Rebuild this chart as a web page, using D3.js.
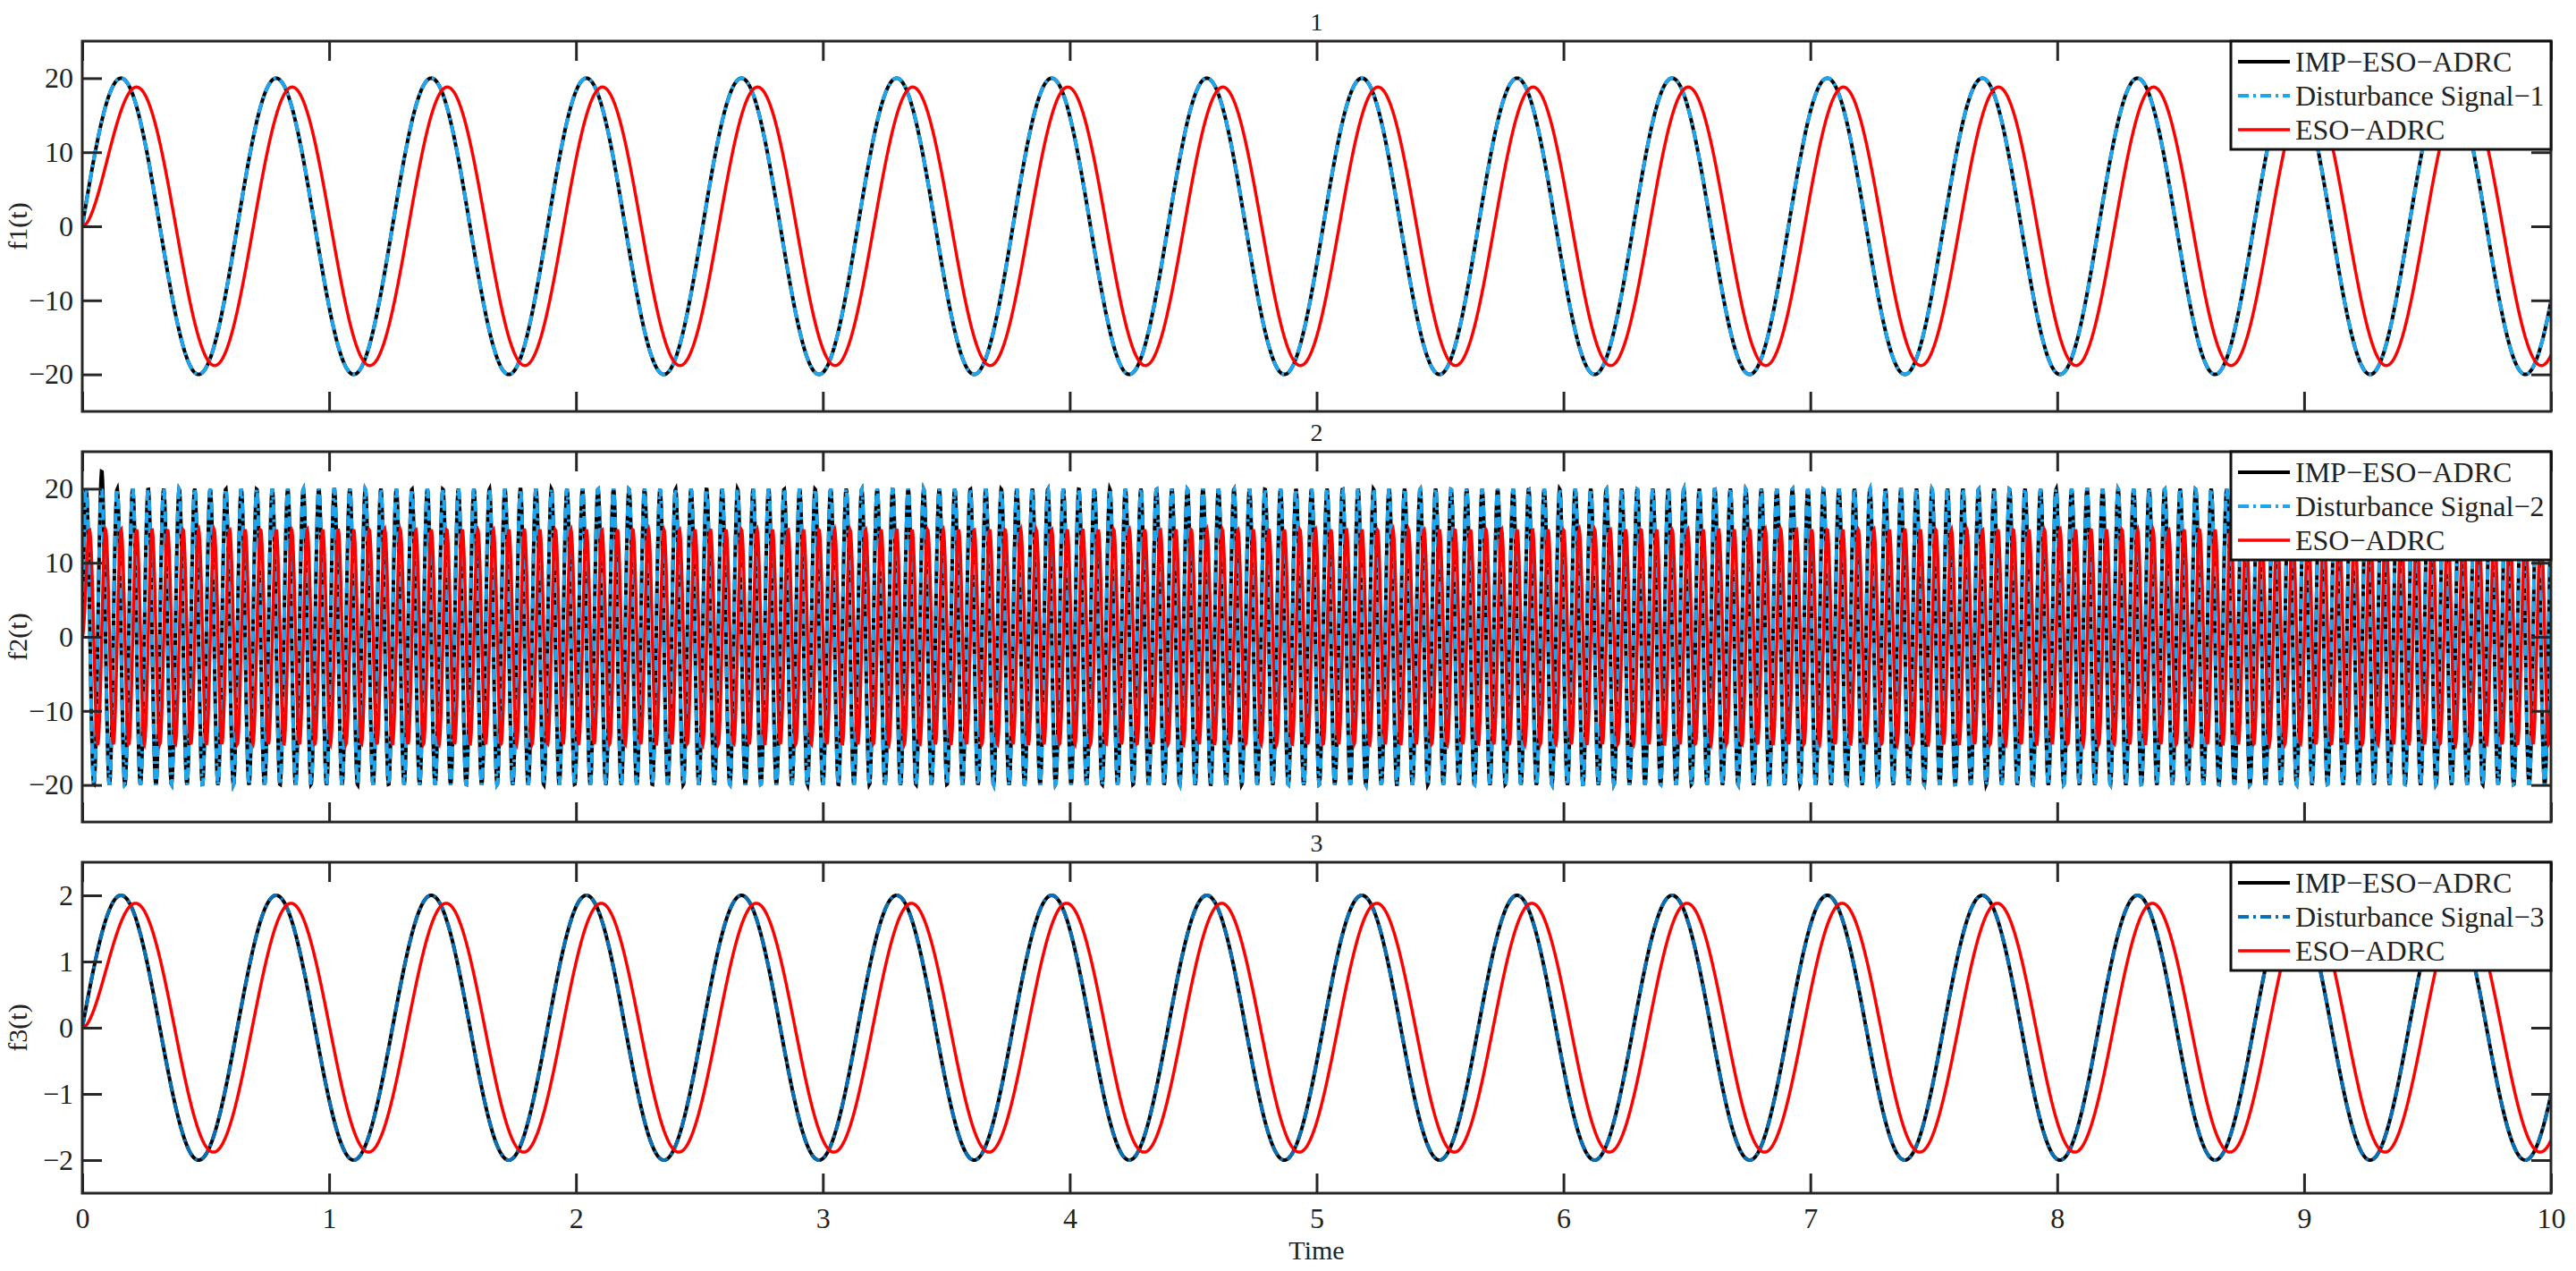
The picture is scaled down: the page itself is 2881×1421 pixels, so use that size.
<!DOCTYPE html>
<html><head><meta charset="utf-8">
<script src="https://cdn.jsdelivr.net/npm/d3@7"></script>
<style>body{margin:0;background:#fff}svg{display:block}text{font-family:"Liberation Serif","Times New Roman",serif;fill:#222}</style>
</head><body><svg id="c" width="2881" height="1421"></svg>
<script>
// ---- data ----
const panelTitles = ["1", "2", "3"];
const yLabels = ["f1(t)", "f2(t)", "f3(t)"];
const legendNames = [
  ["IMP\u2212ESO\u2212ADRC", "Disturbance Signal\u22121", "ESO\u2212ADRC"],
  ["IMP\u2212ESO\u2212ADRC", "Disturbance Signal\u22122", "ESO\u2212ADRC"],
  ["IMP\u2212ESO\u2212ADRC", "Disturbance Signal\u22123", "ESO\u2212ADRC"]
];
const xTicks = [0,1,2,3,4,5,6,7,8,9,10];
const yTicks = [[-20,-10,0,10,20],[-20,-10,0,10,20],[-2,-1,0,1,2]];
const yDomains = [[-25,25],[-25,25],[-2.5,2.5]];
// sinusoid parameters of each signal, read from the peaks
const disturbanceAmp = [20, 20, 2];
const disturbanceOmega = [10, 100, 10];       // rad/s
const esoAmp = [18.8, 14.5, 1.88];
const esoLag = [0.065, 0.016, 0.06];           // s
const impOvershoot = [0, 2.5, 0];             // initial spike of IMP-ESO-ADRC
const disturbanceColor = ["#1ea5f0", "#1ea5f0", "#0a6fb5"];

const left = 92, right = 2853;
const panels = [{top:46,bottom:460},{top:505,bottom:919},{top:964,bottom:1334}];
const svg = d3.select("#c");
const x = d3.scaleLinear().domain([0,10]).range([left,right]);
const dt = 0.002;
const ts = d3.range(0, 10 + dt/2, dt);

panels.forEach((p, i) => {
  const y = d3.scaleLinear().domain(yDomains[i]).range([p.bottom, p.top]);
  const g = svg.append("g");
  const w = disturbanceOmega[i], L = esoLag[i];
  const dist = ts.map(t => [t, disturbanceAmp[i]*Math.sin(w*t)]);
  const imp = ts.map(t => [t, disturbanceAmp[i]*Math.sin(w*t) + impOvershoot[i]*Math.exp(-Math.pow((t-0.08)/0.008,2))]);
  const eso = ts.map(t => [t, esoAmp[i]*Math.sin(w*(t - L + L*Math.exp(-t/L)))]);
  const line = d3.line().x(d=>x(d[0])).y(d=>y(d[1]));
  g.append("clipPath").attr("id","cl"+i).append("rect").attr("x",left).attr("y",p.top).attr("width",right-left).attr("height",p.bottom-p.top);
  const lg = g.append("g").attr("clip-path",`url(#cl${i})`);
  lg.append("path").datum(imp).attr("d",line).attr("fill","none").attr("stroke","#000").attr("stroke-width",4);
  lg.append("path").datum(dist).attr("d",line).attr("fill","none").attr("stroke",disturbanceColor[i]).attr("stroke-width",4).attr("stroke-dasharray","12,5,3,5");
  lg.append("path").datum(eso).attr("d",line).attr("fill","none").attr("stroke","#ff0000").attr("stroke-width",3.5);

  const tl = 22;
  const axB = d3.axisBottom(x).tickValues(xTicks).tickSizeInner(-tl).tickSizeOuter(0).tickPadding(16).tickFormat(i===2?d3.format("d"):"");
  const axT = d3.axisTop(x).tickValues(xTicks).tickSizeInner(-tl).tickSizeOuter(0).tickFormat("");
  const axL = d3.axisLeft(y).tickValues(yTicks[i]).tickSizeInner(-tl).tickSizeOuter(0).tickPadding(10).tickFormat(d3.format("d"));
  const axR = d3.axisRight(y).tickValues(yTicks[i]).tickSizeInner(-tl).tickSizeOuter(0).tickFormat("");
  [[axB,`translate(0,${p.bottom})`],[axT,`translate(0,${p.top})`],[axL,`translate(${left},0)`],[axR,`translate(${right},0)`]].forEach(([a,tr])=>{
    const ag = g.append("g").attr("transform",tr).call(a);
    ag.select(".domain").remove();
    ag.selectAll("line").attr("stroke","#262626").attr("stroke-width",3);
    ag.selectAll("text").style("font-family","Liberation Serif").style("font-size","32px").attr("fill","#222");
  });
  g.append("rect").attr("x",left).attr("y",p.top).attr("width",right-left).attr("height",p.bottom-p.top).attr("fill","none").attr("stroke","#262626").attr("stroke-width",3);

  g.append("text").attr("x",(left+right)/2).attr("y",p.top-12).attr("text-anchor","middle").style("font-size","28px").text(panelTitles[i]);
  g.append("text").attr("transform",`translate(30,${(p.top+p.bottom)/2}) rotate(-90)`).attr("text-anchor","middle").style("font-size","30px").text(yLabels[i]);

  const lw = 358, lh = 121, lx = right - lw, ly = p.top;
  const leg = g.append("g");
  leg.append("rect").attr("x",lx).attr("y",ly).attr("width",lw).attr("height",lh).attr("fill","#fff").attr("stroke","#111").attr("stroke-width",3);
  const styles = [{c:"#000",d:null,w:4},{c:disturbanceColor[i],d:"12,5,3,5",w:4},{c:"#ff0000",d:null,w:3.5}];
  legendNames[i].forEach((n,k)=>{
    const yy = ly + 23 + k*38;
    leg.append("line").attr("x1",lx+8).attr("x2",lx+66).attr("y1",yy).attr("y2",yy).attr("stroke",styles[k].c).attr("stroke-width",styles[k].w).attr("stroke-dasharray",styles[k].d);
    leg.append("text").attr("x",lx+72).attr("y",yy+11).style("font-size","32px").attr("fill","#111").text(n);
  });
});
svg.append("text").attr("x",(left+right)/2).attr("y",1408).attr("text-anchor","middle").style("font-size","30px").text("Time");
</script></body></html>
